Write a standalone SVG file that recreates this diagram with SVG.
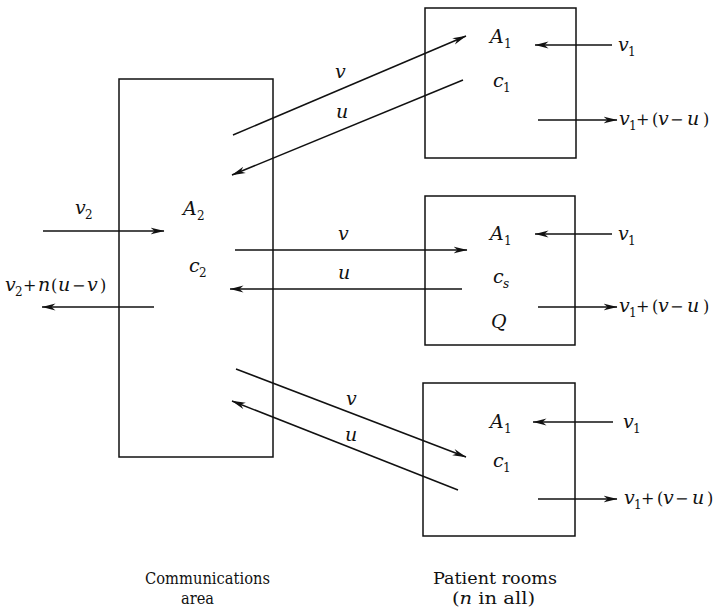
<svg xmlns="http://www.w3.org/2000/svg" width="717" height="615" viewBox="0 0 717 615">
<defs>
<style>
.box{fill:none;stroke:#111;stroke-width:1.5}
.ln{fill:none;stroke:#111;stroke-width:1.5}
.ar{marker-end:url(#ah)}
text{font-family:'DejaVu Serif','Liberation Serif',serif;fill:#111}
.m{font-style:italic;font-size:19px}
.s{font-style:normal;font-size:12px}
.si{font-style:italic;font-size:12px}
.o{font-style:normal;font-size:16px}
.cap{font-size:16px}
</style>
<marker id="ah" viewBox="0 0 14 8" refX="13.5" refY="4" markerWidth="14" markerHeight="8" markerUnits="userSpaceOnUse" orient="auto">
<path d="M0,0.6 L14,4 L0,7.4 L4,4 z" fill="#111"/>
</marker>
</defs>

<g id="comm">
<rect class="box" x="119" y="79" width="154" height="378"/>
<text class="m" x="183" y="215">A</text><text class="s" x="197" y="220">2</text>
<text class="m" x="189" y="272">c</text><text class="s" x="199" y="277">2</text>
</g>

<g id="room1">
<rect class="box" x="425" y="8" width="151" height="150"/>
<text class="m" x="490" y="43">A</text><text class="s" x="504" y="48">1</text>
<text class="m" x="493" y="87">c</text><text class="s" x="503" y="92">1</text>
</g>

<g id="room2">
<rect class="box" x="425" y="196" width="150" height="149"/>
<text class="m" x="490" y="240">A</text><text class="s" x="504" y="245">1</text>
<text class="m" x="493" y="283">c</text><text class="si" x="503" y="288">s</text>
<text class="m" x="491" y="328">Q</text>
</g>

<g id="room3">
<rect class="box" x="423" y="383" width="152" height="153"/>
<text class="m" x="490" y="428">A</text><text class="s" x="504" y="433">1</text>
<text class="m" x="493" y="467">c</text><text class="s" x="503" y="472">1</text>
</g>

<g id="connectors">
<line class="ln ar" x1="233" y1="135" x2="466" y2="36"/>
<line class="ln ar" x1="463" y1="80" x2="232" y2="175"/>
<line class="ln ar" x1="235" y1="250" x2="467" y2="250"/>
<line class="ln ar" x1="462" y1="289" x2="230" y2="289"/>
<line class="ln ar" x1="236" y1="369" x2="466" y2="457"/>
<line class="ln ar" x1="458" y1="490" x2="232" y2="401"/>
<line class="ln ar" x1="43" y1="231" x2="164" y2="231"/>
<line class="ln ar" x1="154" y1="307" x2="42" y2="307"/>
<line class="ln ar" x1="612" y1="45" x2="535" y2="45"/>
<line class="ln ar" x1="538" y1="120" x2="617" y2="120"/>
<line class="ln ar" x1="612" y1="234" x2="535" y2="234"/>
<line class="ln ar" x1="538" y1="307" x2="617" y2="307"/>
<line class="ln ar" x1="613" y1="422" x2="533" y2="422"/>
<line class="ln ar" x1="538" y1="499" x2="617" y2="499"/>
</g>

<g id="labels">
<text class="m" x="335" y="78">v</text>
<text class="m" x="336" y="118">u</text>
<text class="m" x="338" y="240">v</text>
<text class="m" x="338" y="279">u</text>
<text class="m" x="346" y="405">v</text>
<text class="m" x="345" y="441">u</text>

<text class="m" x="75" y="214">v</text><text class="s" x="85" y="219">2</text>

<text class="m" x="5" y="291">v</text><text class="s" x="15" y="296">2</text><text class="o" x="23" y="291">+</text><text class="m" x="38" y="291">n</text><text class="o" x="51" y="291">(</text><text class="m" x="58" y="291">u</text><text class="o" x="72" y="291">−</text><text class="m" x="87" y="291">v</text><text class="o" x="100" y="291">)</text>

<text class="m" x="618" y="51">v</text><text class="s" x="628" y="56">1</text>
<text class="m" x="619" y="125">v</text><text class="s" x="629" y="130">1</text><text class="o" x="636" y="125">+</text><text class="o" x="652" y="125">(</text><text class="m" x="658" y="125">v</text><text class="o" x="670" y="125">−</text><text class="m" x="687" y="125">u</text><text class="o" x="703" y="125">)</text>

<text class="m" x="618" y="240">v</text><text class="s" x="628" y="245">1</text>
<text class="m" x="619" y="312">v</text><text class="s" x="629" y="317">1</text><text class="o" x="636" y="312">+</text><text class="o" x="652" y="312">(</text><text class="m" x="658" y="312">v</text><text class="o" x="670" y="312">−</text><text class="m" x="687" y="312">u</text><text class="o" x="703" y="312">)</text>

<text class="m" x="623" y="428">v</text><text class="s" x="633" y="433">1</text>
<text class="m" x="624" y="504">v</text><text class="s" x="634" y="509">1</text><text class="o" x="641" y="504">+</text><text class="o" x="657" y="504">(</text><text class="m" x="663" y="504">v</text><text class="o" x="675" y="504">−</text><text class="m" x="692" y="504">u</text><text class="o" x="707" y="504">)</text>

<text class="cap" x="145" y="584" textLength="125" lengthAdjust="spacingAndGlyphs">Communications</text>
<text class="cap" x="181" y="604" textLength="33" lengthAdjust="spacingAndGlyphs">area</text>
<text class="cap" x="433" y="584" textLength="124" lengthAdjust="spacingAndGlyphs">Patient rooms</text>
<text class="cap" x="452" y="604" textLength="83" lengthAdjust="spacingAndGlyphs">(<tspan font-style="italic">n</tspan> in all)</text>
</g>
</svg>
